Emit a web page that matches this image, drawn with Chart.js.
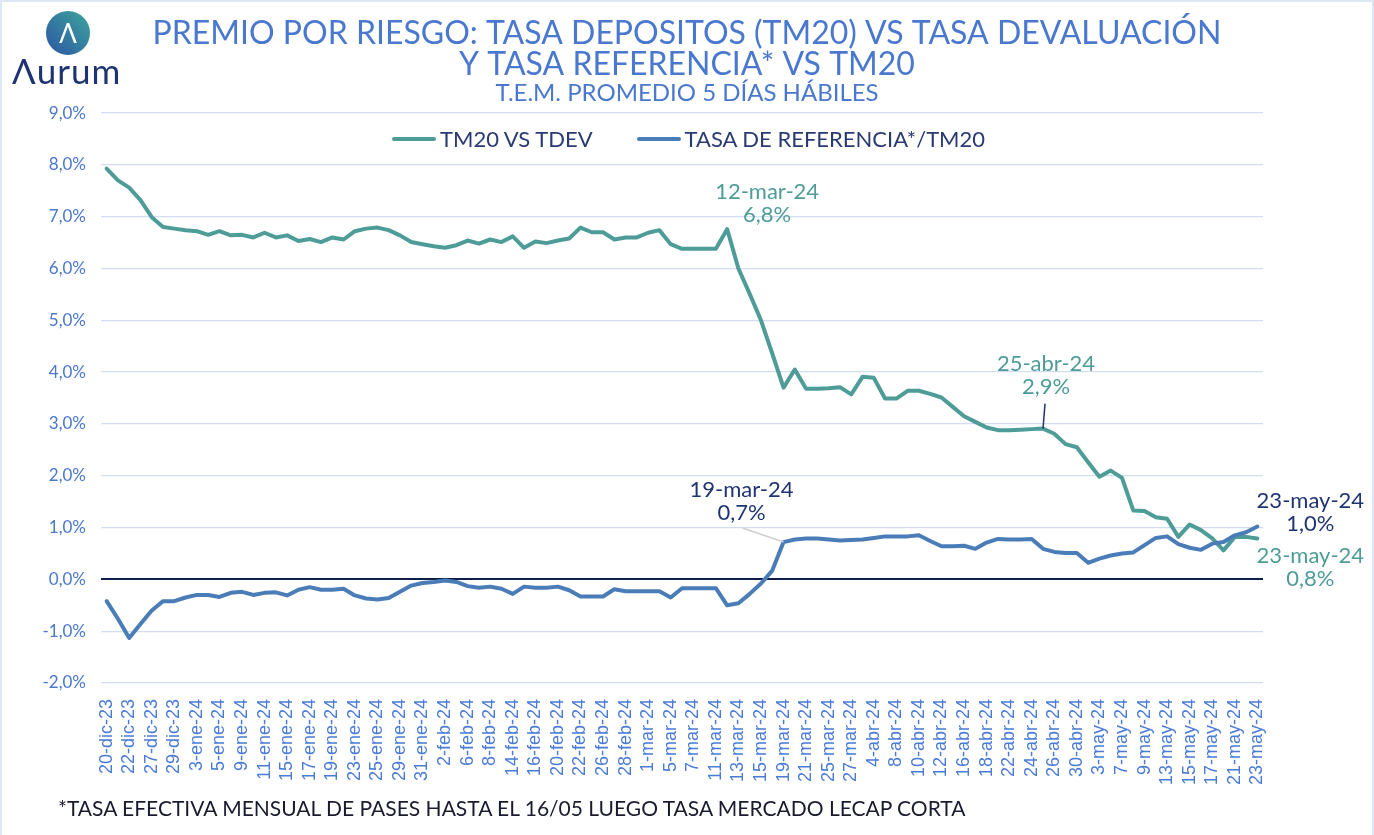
<!DOCTYPE html>
<html lang="es">
<head>
<meta charset="utf-8">
<title>Premio por riesgo</title>
<script src="https://cdn.jsdelivr.net/npm/chart.js@4.4.1/dist/chart.umd.min.js"></script>
<style>
    html, body { margin: 0; padding: 0; background: #fff; }
    .marco { position: relative; width: 1374px; height: 835px; overflow: hidden; font-family: Lato, 'Noto Sans', sans-serif; }
    .marco::after { content: ''; position: absolute; inset: 0; border: 2px solid #dde6f4; border-bottom: none; pointer-events: none; }
    canvas { position: absolute; left: 0; top: 0; }
    .logo-circulo { position: absolute; left: 46px; top: 11px; width: 44px; height: 44px; border-radius: 50%;
        background: linear-gradient(45deg, #2b56a4, #3ea59b); color: #fff; font-size: 26px; line-height: 44px; text-align: center; }
    .logo-texto { position: absolute; left: 12px; top: 49px; font-size: 35px; color: #1e3472; letter-spacing: 1px; }
    .leyenda { position: absolute; top: 125px; left: 392px; display: flex; align-items: center; font-size: 22px; color: #2a3a72; }
    .leyenda span.linea { display: inline-block; width: 44px; height: 4px; border-radius: 2px; margin-right: 4px; }
    .leyenda .item { display: flex; align-items: center; margin-right: 44px; }
    .nota { position: absolute; left: 58px; top: 795px; font-size: 21px; color: #1b1b2f; }
</style>
</head>
<body>
<div class="marco">
    <canvas id="grafico" width="1374" height="835"></canvas>
    <div class="logo-circulo">Λ</div>
    <div class="logo-texto">Λurum</div>
    <div class="leyenda">
        <div class="item"><span class="linea" style="background:#4e9c98"></span>TM20 VS TDEV</div>
        <div class="item"><span class="linea" style="background:#4a7db8"></span>TASA DE REFERENCIA*/TM20</div>
    </div>
    <div class="nota">*TASA EFECTIVA MENSUAL DE PASES HASTA EL 16/05 LUEGO TASA MERCADO LECAP CORTA</div>
</div>
<script>
// Días hábiles (se rotula uno de cada dos)
const fechas = [
    '20-dic-23', '21-dic-23', '22-dic-23', '26-dic-23', '27-dic-23', '28-dic-23', '29-dic-23',
    '2-ene-24', '3-ene-24', '4-ene-24', '5-ene-24', '8-ene-24', '9-ene-24', '10-ene-24', '11-ene-24', '12-ene-24',
    '15-ene-24', '16-ene-24', '17-ene-24', '18-ene-24', '19-ene-24', '22-ene-24', '23-ene-24', '24-ene-24',
    '25-ene-24', '26-ene-24', '29-ene-24', '30-ene-24', '31-ene-24',
    '1-feb-24', '2-feb-24', '5-feb-24', '6-feb-24', '7-feb-24', '8-feb-24', '9-feb-24', '14-feb-24', '15-feb-24',
    '16-feb-24', '19-feb-24', '20-feb-24', '21-feb-24', '22-feb-24', '23-feb-24', '26-feb-24', '27-feb-24',
    '28-feb-24', '29-feb-24',
    '1-mar-24', '4-mar-24', '5-mar-24', '6-mar-24', '7-mar-24', '8-mar-24', '11-mar-24', '12-mar-24', '13-mar-24',
    '14-mar-24', '15-mar-24', '18-mar-24', '19-mar-24', '20-mar-24', '21-mar-24', '22-mar-24', '25-mar-24',
    '26-mar-24', '27-mar-24',
    '3-abr-24', '4-abr-24', '5-abr-24', '8-abr-24', '9-abr-24', '10-abr-24', '11-abr-24', '12-abr-24', '15-abr-24',
    '16-abr-24', '17-abr-24', '18-abr-24', '19-abr-24', '22-abr-24', '23-abr-24', '24-abr-24', '25-abr-24',
    '26-abr-24', '29-abr-24', '30-abr-24',
    '2-may-24', '3-may-24', '6-may-24', '7-may-24', '8-may-24', '9-may-24', '10-may-24', '13-may-24', '14-may-24',
    '15-may-24', '16-may-24', '17-may-24', '20-may-24', '21-may-24', '22-may-24', '23-may-24'
];

// TM20 vs tasa de devaluación (%)
const tm20VsTdev = [
    7.93, 7.70, 7.56, 7.32, 6.99, 6.80, 6.77, 6.74, 6.72, 6.65, 6.72, 6.64, 6.65, 6.60, 6.69, 6.60,
    6.64, 6.53, 6.57, 6.51, 6.60, 6.56, 6.72, 6.77, 6.79, 6.74, 6.64, 6.51, 6.47, 6.43, 6.40, 6.45,
    6.54, 6.48, 6.56, 6.51, 6.62, 6.40, 6.52, 6.49, 6.54, 6.58, 6.79, 6.70, 6.70, 6.56, 6.60, 6.60,
    6.69, 6.74, 6.47, 6.38, 6.38, 6.38, 6.38, 6.76, 6.00, 5.51, 5.00, 4.36, 3.70, 4.05, 3.68, 3.68,
    3.69, 3.71, 3.57, 3.91, 3.89, 3.49, 3.49, 3.64, 3.64, 3.58, 3.51, 3.33, 3.15, 3.04, 2.93, 2.88,
    2.88, 2.89, 2.90, 2.91, 2.81, 2.61, 2.55, 2.26, 1.98, 2.10, 1.96, 1.33, 1.32, 1.20, 1.17, 0.82,
    1.06, 0.95, 0.79, 0.56, 0.82, 0.82, 0.79
];

// Tasa de referencia vs TM20 (%)
const tasaRefVsTm20 = [
    -0.42, -0.76, -1.13, -0.86, -0.60, -0.42, -0.42, -0.35, -0.30, -0.30, -0.34, -0.26, -0.24, -0.30, -0.26, -0.25,
    -0.31, -0.20, -0.15, -0.20, -0.20, -0.18, -0.31, -0.37, -0.39, -0.36, -0.24, -0.12, -0.07, -0.05, -0.02, -0.05,
    -0.13, -0.16, -0.14, -0.18, -0.28, -0.14, -0.16, -0.16, -0.14, -0.21, -0.33, -0.33, -0.33, -0.19, -0.23, -0.23,
    -0.23, -0.23, -0.35, -0.17, -0.17, -0.17, -0.17, -0.50, -0.46, -0.28, -0.08, 0.17, 0.72, 0.77, 0.79, 0.79,
    0.77, 0.75, 0.76, 0.77, 0.80, 0.83, 0.83, 0.83, 0.85, 0.74, 0.64, 0.64, 0.65, 0.59, 0.71, 0.78,
    0.77, 0.77, 0.78, 0.59, 0.53, 0.51, 0.51, 0.32, 0.40, 0.46, 0.50, 0.52, 0.66, 0.80, 0.83, 0.68,
    0.61, 0.57, 0.69, 0.72, 0.85, 0.91, 1.02
];

const series = ['TM20 VS TDEV', 'TASA DE REFERENCIA*/TM20'];
const ejeY = [-2, 9]; // mínimo y máximo en %

// Puntos rotulados: [serie, fecha]
const rotulados = [
    [0, '12-mar-24'],
    [1, '19-mar-24'],
    [0, '25-abr-24'],
    [1, '23-may-24'],
    [0, '23-may-24']
];

const TEAL = '#4e9c98';
const AZUL = '#4a7db8';
const NAVY = '#1f3472';

function pct(v) {
    return v.toFixed(1).replace('.', ',') + '%';
}

// Rótulos de fecha y valor junto a los puntos
const rotulosPlugin = {
    id: 'rotulos',
    afterDatasetsDraw(chart) {
        const ctx = chart.ctx;
        // desplazamientos [dx, dy] del centro del texto, color y guía
        const estilo = [
            { dx: 40, dy: -37, color: TEAL },
            { dx: -42, dy: -52, color: NAVY, guia: [-41, -14, '#cfcfcf'] },
            { dx: 3, dy: -65, color: TEAL, guia: [2, -25, NAVY] },
            { dx: 53, dy: -26, color: NAVY },
            { dx: 53, dy: 17, color: TEAL }
        ];
        ctx.save();
        rotulados.forEach(([serie, fecha], k) => {
            const idx = fechas.indexOf(fecha);
            const p = chart.getDatasetMeta(serie).data[idx];
            const valor = chart.data.datasets[serie].data[idx];
            const e = estilo[k];
            if (e.guia) {
                ctx.strokeStyle = e.guia[2];
                ctx.lineWidth = 1.5;
                ctx.beginPath();
                ctx.moveTo(p.x + e.guia[0], p.y + e.guia[1]);
                ctx.lineTo(p.x, p.y);
                ctx.stroke();
            }
            ctx.fillStyle = e.color;
            ctx.font = '22px Lato, "Noto Sans", sans-serif';
            ctx.textAlign = 'center';
            ctx.textBaseline = 'middle';
            ctx.fillText(fecha, p.x + e.dx, p.y + e.dy);
            ctx.fillText(pct(valor), p.x + e.dx, p.y + e.dy + 23);
        });
        ctx.restore();
    }
};

const ctx = document.getElementById('grafico').getContext('2d');
new Chart(ctx, {
    type: 'line',
    data: {
        labels: fechas,
        datasets: [{
            label: series[0],
            data: tm20VsTdev,
            borderColor: TEAL,
            borderWidth: 4,
            pointRadius: 0,
            tension: 0,
            borderJoinStyle: 'round',
            borderCapStyle: 'round',
            order: 1
        }, {
            label: series[1],
            data: tasaRefVsTm20,
            borderColor: AZUL,
            borderWidth: 4,
            pointRadius: 0,
            tension: 0,
            borderJoinStyle: 'round',
            borderCapStyle: 'round',
            order: 0
        }]
    },
    options: {
        responsive: false,
        animation: false,
        layout: {
            padding: { top: 0, left: 31, right: 31, bottom: 40 }
        },
        plugins: {
            legend: { display: false },
            tooltip: { enabled: false },
            title: {
                display: true,
                text: ['PREMIO POR RIESGO: TASA DEPOSITOS (TM20) VS TASA DEVALUACIÓN', 'Y TASA REFERENCIA* VS TM20'],
                color: '#4a78cf',
                font: { family: 'Lato', size: 32, weight: 'normal', lineHeight: 0.97 },
                padding: { top: 18, bottom: 0 }
            },
            subtitle: {
                display: true,
                text: 'T.E.M. PROMEDIO 5 DÍAS HÁBILES',
                color: '#4a78cf',
                font: { family: 'Lato', size: 24, lineHeight: 1.0 },
                padding: { top: 1, bottom: 8 }
            }
        },
        scales: {
            x: {
                offset: true,
                grid: { display: false },
                border: { display: false },
                ticks: {
                    autoSkip: false,
                    maxRotation: 90,
                    minRotation: 90,
                    padding: 8,
                    color: '#4a7bd6',
                    font: { family: 'Liberation Sans', size: 18 },
                    callback: (val, i) => (i % 2 === 0 ? fechas[i] : '')
                },
                afterFit: (scale) => { scale.height = 112; }
            },
            y: {
                min: ejeY[0],
                max: ejeY[1],
                border: { display: false },
                grid: {
                    drawTicks: false,
                    color: (c) => (c.tick.value === 0 ? '#0e1f47' : '#d3ddf1'),
                    lineWidth: (c) => (c.tick.value === 0 ? 2 : 1.3)
                },
                ticks: {
                    stepSize: 1,
                    padding: 15,
                    color: '#4a78cf',
                    font: { family: 'Lato', size: 17 },
                    callback: (v) => pct(v)
                },
                afterFit: (scale) => { scale.width = 70; }
            },
            // eje vacío a la derecha: deja sitio a los rótulos finales
            margen: {
                position: 'right',
                grid: { display: false },
                border: { display: false },
                ticks: { display: false },
                afterFit: (scale) => { scale.width = 80; }
            }
        }
    },
    plugins: [rotulosPlugin]
});
</script>
</body>
</html>
